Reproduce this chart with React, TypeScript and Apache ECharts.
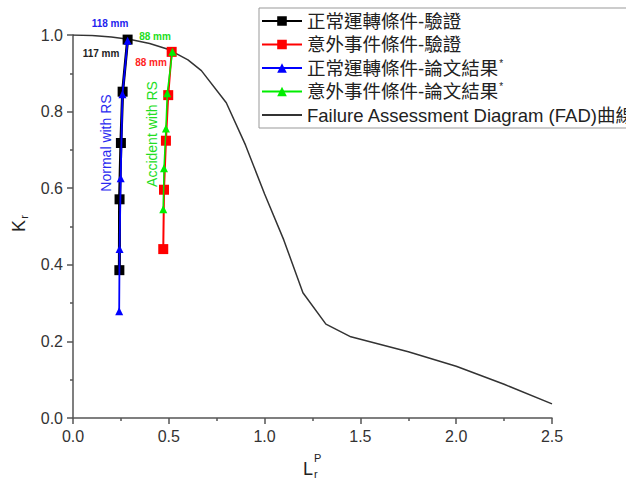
import React, { useEffect, useRef } from "react";
import * as echarts from "echarts";

// FAD curve (Lr^P, Kr)
const fadX = [0, 0.1, 0.2, 0.3, 0.4, 0.5, 0.6, 0.67, 0.8, 0.9, 1.0, 1.1, 1.2, 1.32, 1.45, 1.75, 2.0, 2.25, 2.5];
const fadY = [1.0, 0.999, 0.995, 0.988, 0.978, 0.962, 0.935, 0.907, 0.823, 0.713, 0.585, 0.465, 0.327, 0.245, 0.212, 0.173, 0.135, 0.088, 0.037];

// 正常運轉條件-驗證
const normalValX = [0.242, 0.243, 0.25, 0.259, 0.285];
const normalValY = [0.386, 0.571, 0.718, 0.852, 0.988];
// 意外事件條件-驗證
const accidentValX = [0.471, 0.475, 0.485, 0.497, 0.515];
const accidentValY = [0.441, 0.596, 0.724, 0.843, 0.956];
// 正常運轉條件-論文結果
const normalPaperX = [0.241, 0.243, 0.249, 0.258, 0.285];
const normalPaperY = [0.279, 0.441, 0.626, 0.845, 0.985];
// 意外事件條件-論文結果
const accidentPaperX = [0.471, 0.475, 0.485, 0.492, 0.519];
const accidentPaperY = [0.545, 0.652, 0.756, 0.848, 0.956];

const seriesNames = [
  "正常運轉條件-驗證",
  "意外事件條件-驗證",
  "正常運轉條件-論文結果",
  "意外事件條件-論文結果",
  "Failure Assessment Diagram (FAD)曲線",
];

const xTicks = { min: 0, max: 2.5, interval: 0.5 };
const yTicks = { min: 0, max: 1.0, interval: 0.2 };

const zip = (xs: number[], ys: number[]) => xs.map((x, i) => [x, ys[i]]);

const LATIN = '"Liberation Sans", Arial, sans-serif';
const MIXED = '"Liberation Sans", "Noto Sans CJK TC", sans-serif';

export default function App() {
  const ref = useRef<HTMLDivElement>(null);
  useEffect(() => {
    document.body.style.margin = "0";
    const chart = echarts.init(ref.current!, null, { renderer: "svg" });
    const axisCommon = {
      axisLine: { show: true, onZero: false, lineStyle: { color: "#555", width: 1.5 } },
      axisTick: { show: true, inside: false, length: 6, lineStyle: { color: "#555", width: 1.5 } },
      minorTick: { show: true, splitNumber: 2, length: 3, lineStyle: { color: "#555", width: 1.5 } },
      splitLine: { show: false },
      axisLabel: { color: "#333", fontSize: 16, fontFamily: LATIN, margin: 10, formatter: (v: number) => v.toFixed(1) },
    };
    chart.setOption({
      animation: false,
      backgroundColor: "#fff",
      grid: { left: 73, right: 74, top: 35, bottom: 68 },
      xAxis: { type: "value", ...xTicks, ...axisCommon },
      yAxis: { type: "value", ...yTicks, ...axisCommon },
      legend: {
        orient: "vertical",
        left: 259,
        top: 8,
        padding: [3, 12, 3, 2],
        itemGap: 3.5,
        itemWidth: 40,
        itemHeight: 12,
        selectedMode: false,
        borderColor: "#999",
        borderWidth: 1,
        backgroundColor: "#fff",
        data: [
          seriesNames[0],
          seriesNames[1],
          seriesNames[2],
          seriesNames[3],
          { name: seriesNames[4], itemStyle: { opacity: 0 } },
        ],
        formatter: (name: string) => (name.endsWith("論文結果") ? name + "{sup|*}" : name),
        textStyle: {
          fontSize: 18.5,
          lineHeight: 20,
          color: "#222",
          fontFamily: MIXED,
          rich: {
            sup: { fontSize: 10, verticalAlign: "top", padding: [0, 0, 8, 1], fontFamily: LATIN, color: "#222" },
          },
        },
      },
      series: [
        {
          name: seriesNames[4],
          type: "line",
          data: zip(fadX, fadY),
          symbol: "none",
          lineStyle: { color: "#333", width: 1.5 },
          itemStyle: { color: "#333" },
          z: 1,
        },
        {
          name: seriesNames[0],
          type: "line",
          data: zip(normalValX, normalValY),
          symbol: "rect",
          symbolSize: 10,
          lineStyle: { color: "#000", width: 3 },
          itemStyle: { color: "#000" },
          z: 2,
        },
        {
          name: seriesNames[1],
          type: "line",
          data: zip(accidentValX, accidentValY),
          symbol: "rect",
          symbolSize: 10,
          lineStyle: { color: "#ff0000", width: 2 },
          itemStyle: { color: "#ff0000" },
          z: 2,
        },
        {
          name: seriesNames[2],
          type: "line",
          data: zip(normalPaperX, normalPaperY),
          symbol: "triangle",
          symbolSize: 8,
          lineStyle: { color: "#0000ff", width: 1.8 },
          itemStyle: { color: "#0000ff" },
          z: 3,
        },
        {
          name: seriesNames[3],
          type: "line",
          data: zip(accidentPaperX, accidentPaperY),
          symbol: "triangle",
          symbolSize: 8,
          lineStyle: { color: "#00ee00", width: 1.5 },
          itemStyle: { color: "#00ee00" },
          z: 3,
        },
      ],
      graphic: [
        { type: "text", x: 19, y: 226, rotation: Math.PI / 2, style: { text: "K", fontSize: 18, fontFamily: LATIN, fill: "#222", align: "center", verticalAlign: "middle" } },
        { type: "text", x: 24, y: 217, rotation: Math.PI / 2, style: { text: "r", fontSize: 11, fontFamily: LATIN, fill: "#222", align: "center", verticalAlign: "middle" } },
        { type: "text", x: 303, y: 469, style: { text: "L", fontSize: 18, fontFamily: LATIN, fill: "#222", align: "left", verticalAlign: "middle" } },
        { type: "text", x: 314, y: 458, style: { text: "P", fontSize: 11, fontFamily: LATIN, fill: "#222", align: "left", verticalAlign: "middle" } },
        { type: "text", x: 314, y: 474, style: { text: "r", fontSize: 11, fontFamily: LATIN, fill: "#222", align: "left", verticalAlign: "middle" } },
        { type: "text", x: 110, y: 23, style: { text: "118 mm", fontSize: 10, fontWeight: "bold", fontFamily: LATIN, fill: "#2222ee", align: "center", verticalAlign: "middle" } },
        { type: "text", x: 101, y: 53, style: { text: "117 mm", fontSize: 10, fontWeight: "bold", fontFamily: LATIN, fill: "#222", align: "center", verticalAlign: "middle" } },
        { type: "text", x: 155, y: 36, style: { text: "88 mm", fontSize: 10, fontWeight: "bold", fontFamily: LATIN, fill: "#22dd22", align: "center", verticalAlign: "middle" } },
        { type: "text", x: 151, y: 62, style: { text: "88 mm", fontSize: 10, fontWeight: "bold", fontFamily: LATIN, fill: "#ff2222", align: "center", verticalAlign: "middle" } },
        { type: "text", x: 106, y: 143, rotation: Math.PI / 2, style: { text: "Normal with RS", fontSize: 14, fontFamily: LATIN, fill: "#2a2af0", align: "center", verticalAlign: "middle" } },
        { type: "text", x: 152, y: 134, rotation: Math.PI / 2, style: { text: "Accident with RS", fontSize: 14, fontFamily: LATIN, fill: "#22dd22", align: "center", verticalAlign: "middle" } },
      ],
    });
    return () => chart.dispose();
  }, []);
  return <div ref={ref} style={{ position: "absolute", left: 0, top: 0, width: 626, height: 486 }} />;
}
